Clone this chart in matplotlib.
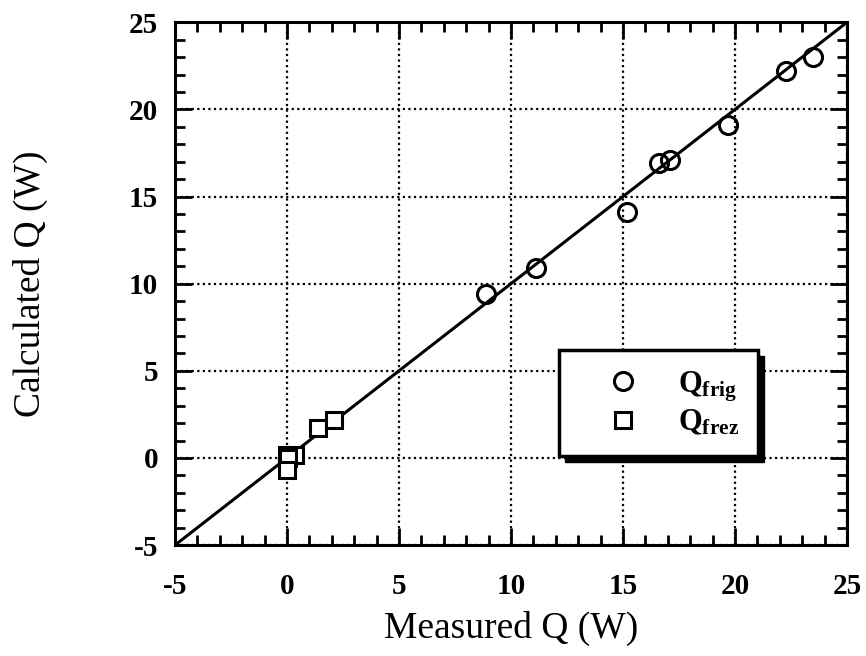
import matplotlib
matplotlib.use("Agg")
import matplotlib.pyplot as plt
from matplotlib.patches import Rectangle
from matplotlib.ticker import MultipleLocator

plt.rcParams['font.family'] = ['Liberation Serif', 'DejaVu Serif']
plt.rcParams['mathtext.fontset'] = 'custom'
plt.rcParams['mathtext.rm'] = 'Liberation Serif:bold'
plt.rcParams['mathtext.bf'] = 'Liberation Serif:bold'
plt.rcParams['mathtext.it'] = 'Liberation Serif:bold'
plt.rcParams['axes.unicode_minus'] = False

# Data
frig_meas = [8.9, 11.1, 15.2, 16.6, 17.1, 19.7, 22.3, 23.5]
frig_calc = [9.4, 10.9, 14.1, 16.9, 17.1, 19.1, 22.2, 23.0]
frez_meas = [0.0, 0.35, 0.05, 0.0, 1.4, 2.1]
frez_calc = [0.2, 0.2, 0.0, -0.7, 1.7, 2.2]
ideal = [-5, 25]

fig = plt.figure(figsize=(8.66, 6.56), dpi=100)
ax = fig.add_axes([0.202, 0.169, 0.776, 0.797])

ax.plot(ideal, ideal, color='black', lw=2.2, zorder=2)
ax.plot(frig_meas, frig_calc, 'o', ms=13, mfc='none', mec='black', mew=2.2,
        label=r'$\mathbf{Q_{frig}}$', zorder=3)
ax.plot(frez_meas, frez_calc, 's', ms=12, mfc='white', mec='black', mew=2.2,
        label=r'$\mathbf{Q_{frez}}$', zorder=3)

ax.set_xlim(-5, 25)
ax.set_ylim(-5, 25)
ax.xaxis.set_major_locator(MultipleLocator(5))
ax.yaxis.set_major_locator(MultipleLocator(5))
ax.xaxis.set_minor_locator(MultipleLocator(1))
ax.yaxis.set_minor_locator(MultipleLocator(1))
ax.tick_params(which='both', direction='in', top=True, right=True, width=2, colors='black')
ax.tick_params(which='major', length=12, labelsize=21)
ax.tick_params(which='minor', length=7)
ax.tick_params(axis='x', which='major', pad=20)
ax.tick_params(axis='y', which='major', pad=12)
for lab in ax.get_xticklabels() + ax.get_yticklabels():
    lab.set_fontweight('bold')
ax.grid(True, which='major', color='black', linestyle=(0, (1, 1.5)), lw=1.6)
for s in ax.spines.values():
    s.set_linewidth(2.2)

ax.set_xlabel('Measured Q (W)', fontsize=27, labelpad=8)
ax.set_ylabel('Calculated Q (W)', fontsize=27, labelpad=58)

leg = ax.legend(loc='upper left', bbox_to_anchor=(0.572, 0.373), fontsize=22,
                frameon=True, fancybox=False, edgecolor='black', framealpha=1,
                handletextpad=0.36, borderpad=0.62, labelspacing=0.15,
                borderaxespad=0, handlelength=2.9)
leg.get_frame().set_linewidth(2.5)
leg.set_zorder(10)

fig.canvas.draw()
bb = leg.get_window_extent()
off = 6
shadow = Rectangle((bb.x0 + off, bb.y0 - off), bb.width, bb.height,
                   transform=None, facecolor='black', edgecolor='black', zorder=9)
ax.add_artist(shadow)
shadow.set_clip_on(False)

fig.savefig('out.png', dpi=100)
